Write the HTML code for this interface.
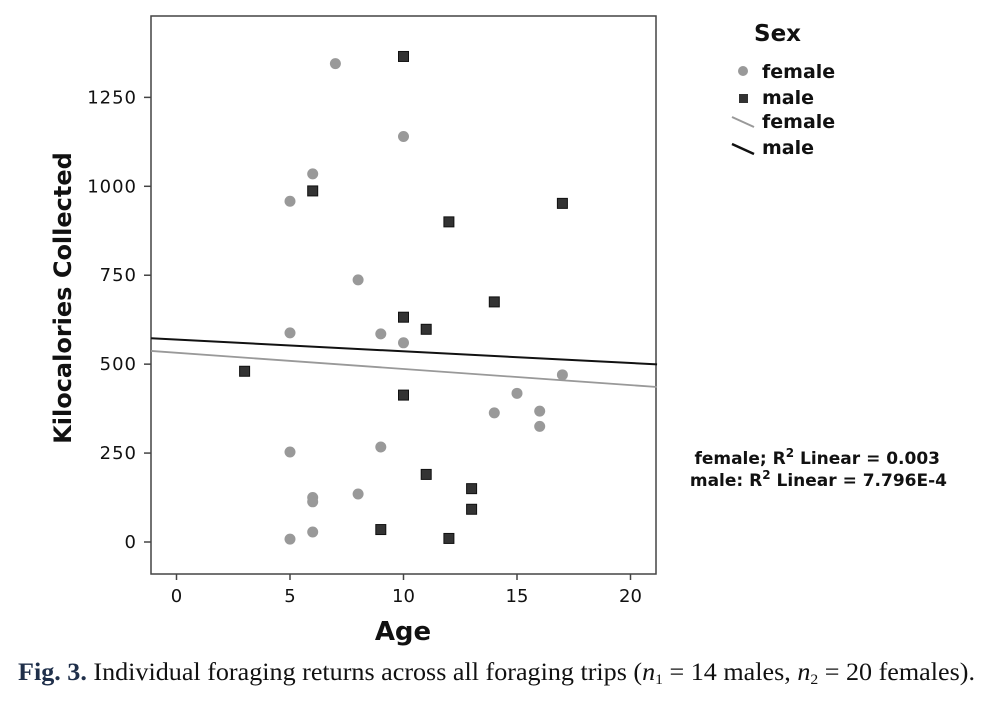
<!DOCTYPE html>
<html><head><meta charset="utf-8"><style>
body{margin:0;background:#fff;width:986px;height:725px;overflow:hidden}
svg{display:block}
text{font-family:"DejaVu Sans","Liberation Sans",sans-serif}
</style></head><body>
<svg id="chart" width="986" height="725">
<rect x="151" y="16" width="505" height="558" fill="none" stroke="#444" stroke-width="1.5"/>
<g id="axes"></g>
<g id="lines"></g>
<g id="points"></g>
<text x="403" y="640" text-anchor="middle" font-size="26" font-weight="bold" fill="#111">Age</text>
<text transform="translate(71,298) rotate(-90)" text-anchor="middle" font-size="24" font-weight="bold" fill="#111">Kilocalories Collected</text>
<g>
<text x="754" y="41" font-size="23" font-weight="600" fill="#111">Sex</text>
<circle cx="743" cy="71" r="5" fill="#999"/>
<text x="762" y="78" font-size="19" font-weight="bold" fill="#111">female</text>
<rect x="739" y="94" width="9" height="9" fill="#333"/>
<text x="762" y="104" font-size="19" font-weight="bold" fill="#111">male</text>
<line x1="732" y1="117" x2="754" y2="127" stroke="#999" stroke-width="2"/>
<text x="762" y="128" font-size="19" font-weight="bold" fill="#111">female</text>
<line x1="732" y1="144" x2="754" y2="154" stroke="#111" stroke-width="2.5"/>
<text x="762" y="154" font-size="19" font-weight="bold" fill="#111">male</text>
</g>
<text x="940" y="464" text-anchor="end" font-size="17" font-weight="bold" fill="#111">female; R<tspan dy="-7" font-size="12">2</tspan><tspan dy="7"> Linear = 0.003</tspan></text>
<text x="947" y="486" text-anchor="end" font-size="17" font-weight="bold" fill="#111">male: R<tspan dy="-7" font-size="12">2</tspan><tspan dy="7"> Linear = 7.796E-4</tspan></text>
<text x="18" y="680" font-size="25" fill="#111" textLength="957" lengthAdjust="spacingAndGlyphs" style="font-family:'Liberation Serif',serif"><tspan font-weight="bold" fill="#1f2f4a">Fig. 3.</tspan> Individual foraging returns across all foraging trips (<tspan font-style="italic">n</tspan><tspan font-size="15" dy="4">1</tspan><tspan dy="-4"> = 14 males, </tspan><tspan font-style="italic">n</tspan><tspan font-size="15" dy="4">2</tspan><tspan dy="-4"> = 20 females).</tspan></text>
</svg>
<script>
const xTicks=[0,5,10,15,20];
const yTicks=[0,250,500,750,1000,1250];
const femaleAge=[7,10,6,5,8,5,9,10,17,15,14,16,16,9,5,8,6,6,6,5];
const femaleKcal=[1345,1140,1035,958,737,588,585,560,470,418,363,368,325,267,253,135,125,113,28,8];
const maleAge=[10,6,12,17,14,10,11,3,10,11,13,13,9,12];
const maleKcal=[1365,987,900,952,675,632,598,480,413,190,150,92,35,10];
const fitIntercept=[532,569];
const fitSlope=[-4.55,-3.29];
const xMin=-1.12,xMax=21.17;
const NS='http://www.w3.org/2000/svg';
const X=v=>176.5+v*22.7;
const Y=v=>542-v*0.3557;
function mk(tag,attrs,parent){const e=document.createElementNS(NS,tag);for(const k in attrs)e.setAttribute(k,attrs[k]);parent.appendChild(e);return e;}
const axes=document.getElementById('axes');
xTicks.forEach(t=>{
 const l=mk('line',{x1:X(t),x2:X(t),y1:574,y2:580,stroke:'#444','stroke-width':1.5},axes);
 
 
 const tx=mk('text',{x:X(t),y:602,'text-anchor':'middle','font-size':18,fill:'#111'},axes);
 tx.textContent=t;
 
 
});
yTicks.forEach(t=>{
 const l=mk('line',{x1:144,x2:151,y1:Y(t),y2:Y(t),stroke:'#444','stroke-width':1.5},axes);
 
 
 const tx=mk('text',{x:137,y:Y(t)+6,'text-anchor':'end','font-size':18,fill:'#111','letter-spacing':'1'},axes);
 tx.textContent=t;
 
 
});
const lines=document.getElementById('lines');
const colors=['#999','#111'],names=['female-fit-line','male-fit-line'];
for(let i=0;i<2;i++){
 const l=mk('line',{x1:X(xMin),y1:Y(fitIntercept[i]+fitSlope[i]*xMin),x2:X(xMax),y2:Y(fitIntercept[i]+fitSlope[i]*xMax),stroke:colors[i],'stroke-width':i?2:1.8},lines);
 
 
}
const pts=document.getElementById('points');
femaleAge.forEach((a,i)=>{
 const c=mk('circle',{cx:X(a),cy:Y(femaleKcal[i]),r:5.5,fill:'#999'},pts);
 
 
});
maleAge.forEach((a,i)=>{
 const r=mk('rect',{x:X(a)-5,y:Y(maleKcal[i])-5,width:10,height:10,fill:'#333',stroke:'#111','stroke-width':1},pts);
 
 
});
</script>
</body></html>
